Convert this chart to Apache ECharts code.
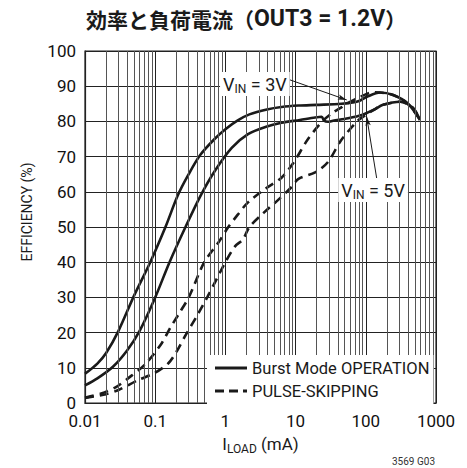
<!DOCTYPE html>
<html>
<head>
<meta charset="utf-8">
<script src="https://cdn.jsdelivr.net/npm/echarts@6/dist/echarts.min.js"></script>
<style>
  html, body { margin: 0; padding: 0; background: #fff; }
  #chart { width: 467px; height: 468px; }
</style>
</head>
<body>
<div id="chart"></div>
<script>
// Tick labels
const xTickLabels = ['0.01', '0.1', '1', '10', '100', '1000'];
const yTickLabels = ['0', '10', '20', '30', '40', '50', '60', '70', '80', '90', '100'];

// Efficiency (%) vs load current (mA)
const burstVin3 = [
  [0.01, 8.3], [0.015, 11.2], [0.02, 14.2], [0.03, 20.5], [0.05, 30.5], [0.085, 40],
  [0.14, 50], [0.21, 59], [0.3, 65], [0.44, 70.5], [0.7, 75], [1.0, 77.8], [1.5, 80.3],
  [2.2, 82], [3.9, 83.4], [6.3, 84.1], [11, 84.5], [20, 84.7], [45, 85], [65, 85.4],
  [80, 85.8], [104, 87], [160, 88.2], [245, 87.5], [390, 85.2], [590, 80.5]
];
const burstVin5 = [
  [0.01, 5], [0.015, 7], [0.025, 10.3], [0.04, 15], [0.06, 20.5], [0.1, 30], [0.16, 40],
  [0.27, 50], [0.44, 58.8], [0.71, 66], [1.23, 72.5], [2.1, 76.4], [3.8, 78.5], [6.3, 79.6],
  [11.5, 80.4], [19, 81.1], [23.5, 81.3], [25.5, 80.2], [29, 79.9], [34, 80.2], [56, 80.9],
  [90, 81.9], [130, 83.3], [176, 84.7], [310, 85.6], [470, 83.8], [590, 80.4]
];
const pulseVin3 = [
  [0.01, 1.5], [0.017, 2.7], [0.028, 4.6], [0.041, 7], [0.072, 11], [0.124, 17], [0.16, 21],
  [0.22, 25.5], [0.3, 30], [0.5, 40], [0.79, 45.5], [1.1, 50], [1.5, 53.5], [2.1, 57],
  [3.8, 61], [6.3, 64], [9.5, 68.5], [14.7, 74.7], [24, 80], [34, 82.5], [45, 84], [53, 85],
  [80, 86.8], [128, 88.3], [160, 88.2], [245, 87.5], [390, 85.2], [590, 80.5]
];
const pulseVin5 = [
  [0.01, 1.4], [0.02, 2.5], [0.03, 3.7], [0.057, 6.5], [0.1, 8.6], [0.154, 11.3], [0.2, 14.5],
  [0.27, 19.2], [0.4, 25], [0.55, 30], [1.0, 40], [1.37, 44.5], [1.78, 46.5], [2.2, 50],
  [3.5, 54], [5.5, 57.5], [8.7, 61.3], [11, 63.7], [19, 65.5], [29, 68.5], [44, 74.5],
  [77, 80.2], [103, 82], [130, 83.3], [176, 84.7], [310, 85.6], [470, 83.8], [590, 80.4]
];

// Callouts: label anchor, arrow tail, arrow head (data coordinates)
const vin3Label = [2.63, 90.6];
const vin3Arrow = [[8.3, 91.8], [53.5, 86.1]];
const vin5Label = [127, 60.5];
const vin5Arrow = [[143, 63.8], [103, 81.3]];

// Minor decade grid: 2..9 within each decade
const decades = [0.01, 0.1, 1, 10, 100];
const minorGrid = [];
decades.forEach(d => { for (let k = 2; k <= 9; k++) minorGrid.push({ xAxis: +(d * k).toPrecision(3) }); });

const SANS = 'Roboto, "Liberation Sans", sans-serif';
const CJK = '"Noto Sans CJK JP", sans-serif';
const INK = '#1a1a1a';

// Legend keys drawn as filled bars: a solid stroke and a dash pattern
const SOLID_KEY = 'path://M0,0h32v3h-32z';
const DASH_KEY = 'path://M0,0h9v3h-9z M14,0h9v3h-9z M28,0h4v3h-4z';

const chart = echarts.init(document.getElementById('chart'), null, { renderer: 'svg' });

const curveStyle = (dashed) => ({
  type: 'line', smooth: 0.3, symbol: 'none', showSymbol: false, silent: true, z: 3,
  lineStyle: { color: INK, width: 2.6, type: dashed ? [9, 6] : 'solid', cap: 'butt' },
  itemStyle: { color: INK }
});

const calloutLabel = (text) => ({
  show: true, position: 'inside', formatter: text,
  backgroundColor: '#fff', padding: [2, 3, 2, 3],
  color: INK, fontFamily: SANS, fontSize: 18, lineHeight: 20,
  rich: {
    base: { fontFamily: SANS, fontSize: 18, color: INK, lineHeight: 20 },
    sub: { fontFamily: SANS, fontSize: 12, color: INK, lineHeight: 20, padding: [9, 0, 0, 0] }
  }
});

chart.setOption({
  animation: false,
  backgroundColor: '#fff',
  grid: { left: 85, right: 31, top: 51, bottom: 65, show: true, borderColor: '#222', borderWidth: 1.2, backgroundColor: 'transparent' },
  xAxis: {
    type: 'log', logBase: 10, min: 0.01, max: 1000,
    axisLine: { show: true, lineStyle: { color: '#222', width: 1.2 } },
    axisTick: { show: false },
    axisLabel: {
      margin: 9, color: '#111', fontFamily: SANS, fontSize: 17,
      formatter: v => xTickLabels[Math.round(Math.log10(v)) + 2]
    },
    splitLine: { show: true, lineStyle: { color: '#222', width: 1 } },
    name: '{b|I}{sub|LOAD}{b| (mA)}', nameLocation: 'middle', nameGap: 30,
    nameTextStyle: {
      color: INK, fontFamily: SANS, fontSize: 17,
      rich: {
        b: { fontFamily: SANS, fontSize: 17, color: INK, lineHeight: 22 },
        sub: { fontFamily: SANS, fontSize: 12, color: INK, lineHeight: 22, padding: [9, 0, 0, 0] }
      }
    }
  },
  yAxis: {
    type: 'value', min: 0, max: 100, interval: 10,
    axisLine: { show: true, lineStyle: { color: '#222', width: 1.2 } },
    axisTick: { show: false },
    axisLabel: {
      margin: 9, color: '#111', fontFamily: SANS, fontSize: 17,
      formatter: v => yTickLabels[Math.round(v / 10)]
    },
    splitLine: { show: true, lineStyle: { color: '#222', width: 1 } }
  },
  legend: {
    left: 207, top: 355, orient: 'vertical',
    backgroundColor: '#fff', padding: [3, 4, 4, 8],
    itemWidth: 32, itemHeight: 3, itemGap: 3,
    data: [
      { name: 'Burst Mode OPERATION', icon: SOLID_KEY },
      { name: 'PULSE-SKIPPING', icon: DASH_KEY }
    ],
    itemStyle: { color: INK, borderWidth: 0 },
    textStyle: { color: INK, fontFamily: SANS, fontSize: 16.5, lineHeight: 20 },
    selectedMode: false, z: 10
  },
  graphic: [
    {
      type: 'text', left: 86, top: 7, z: 10,
      style: {
        text: '{c|効率と負荷電流（}{l|OUT3 = 1.2V}{c|）}',
        rich: {
          c: { fontFamily: CJK, fontWeight: 'bold', fontSize: 21, fill: INK, lineHeight: 28 },
          l: { fontFamily: SANS, fontWeight: 'bold', fontSize: 23, fill: INK, lineHeight: 28 }
        }
      }
    },
    {
      type: 'text', x: 27, y: 212, rotation: Math.PI / 2, z: 10,
      style: { text: 'EFFICIENCY (%)', fontFamily: SANS, fontSize: 14, fill: INK, align: 'center', verticalAlign: 'middle' }
    },
    {
      type: 'text', right: 32, bottom: 2, z: 10,
      style: { text: '3569 G03', fontFamily: SANS, fontSize: 10, fill: '#333' }
    }
  ],
  series: [
    {
      type: 'line', data: [], silent: true, z: 1, symbol: 'none',
      markLine: {
        silent: true, symbol: ['none', 'none'], animation: false,
        label: { show: false },
        lineStyle: { color: '#555', width: 1, type: 'solid' },
        emphasis: { disabled: true },
        data: minorGrid
      }
    },
    Object.assign(curveStyle(false), { name: 'Burst Mode OPERATION', data: burstVin3 }),
    Object.assign(curveStyle(false), { name: 'Burst Mode OPERATION', data: burstVin5 }),
    Object.assign(curveStyle(true), { name: 'PULSE-SKIPPING', data: pulseVin3 }),
    Object.assign(curveStyle(true), { name: 'PULSE-SKIPPING', data: pulseVin5 }),
    {
      type: 'line', data: [], silent: true, z: 5, symbol: 'none',
      markLine: {
        silent: true, symbol: ['none', 'arrow'], symbolSize: [4, 9], animation: false,
        label: { show: false },
        lineStyle: { color: INK, width: 1, type: 'solid' },
        emphasis: { disabled: true },
        data: [
          [{ coord: vin3Arrow[0] }, { coord: vin3Arrow[1] }],
          [{ coord: vin5Arrow[0] }, { coord: vin5Arrow[1] }]
        ]
      },
      markPoint: {
        silent: true, symbol: 'rect', symbolSize: 0, animation: false,
        data: [
          { coord: vin3Label, label: calloutLabel('{base|V}{sub|IN}{base| = 3V}') },
          { coord: vin5Label, label: calloutLabel('{base|V}{sub|IN}{base| = 5V}') }
        ]
      }
    }
  ]
});
</script>
</body>
</html>
